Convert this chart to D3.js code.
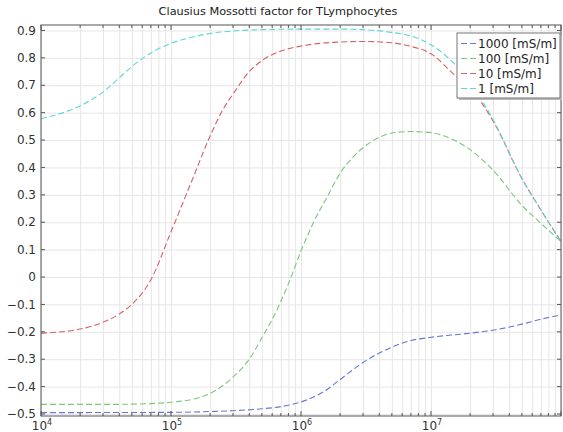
<!DOCTYPE html>
<html>
<head>
<meta charset="utf-8">
<script src="https://cdn.jsdelivr.net/npm/d3@7"></script>
<style>
  body { margin: 0; background: #fff; }
  svg { font-family: "DejaVu Sans", sans-serif; }
  .grid line { stroke: #e6e6e6; stroke-width: 1; }
  .grid path { display: none; }
</style>
</head>
<body>
<svg id="chart" width="563" height="432"></svg>
<script>
// ************************************
// Data
// ************************************
const title = "Clausius Mossotti factor for TLymphocytes";

const seriesNames = ["1000 [mS/m]", "100 [mS/m]", "10 [mS/m]", "1 [mS/m]"];
const seriesColors = ["#6676d4", "#7cc67c", "#d46262", "#5ed6d6"];

const freqBlue = [1e4, 1e5, 2e5, 3e5, 5e5, 7e5, 1e6, 1.5e6, 2e6, 3e6, 5e6, 7e6, 1e7, 2e7, 3e7, 5e7, 7e7, 1e8];
const cmBlue   = [-0.495, -0.494, -0.491, -0.488, -0.481, -0.473, -0.456, -0.418, -0.374, -0.312, -0.256, -0.232, -0.22, -0.205, -0.194, -0.172, -0.154, -0.138];

const freqGreen = [1e4, 3e4, 5e4, 7e4, 1e5, 1.5e5, 2e5, 3e5, 4e5, 5e5, 6e5, 8e5, 1e6, 1.25e6, 1.6e6, 2e6, 2.5e6, 3e6, 4e6, 5e6, 7e6, 1e7, 1.5e7, 2e7, 3e7, 5e7, 7e7, 1e8];
const cmGreen   = [-0.465, -0.465, -0.464, -0.462, -0.457, -0.445, -0.425, -0.365, -0.3, -0.222, -0.155, -0.025, 0.095, 0.2, 0.295, 0.379, 0.437, 0.472, 0.51, 0.526, 0.531, 0.527, 0.5, 0.465, 0.39, 0.262, 0.196, 0.13];

const freqRed = [1e4, 2e4, 3e4, 4e4, 5e4, 7e4, 1e5, 1.5e5, 2e5, 2.5e5, 3e5, 4e5, 5e5, 7e5, 1e6, 2e6, 3e6, 5e6, 7e6, 1e7, 1.5e7, 2e7, 3e7, 5e7, 7e7, 1e8];
const cmRed   = [-0.205, -0.19, -0.165, -0.135, -0.1, -0.01, 0.165, 0.37, 0.515, 0.61, 0.668, 0.75, 0.79, 0.825, 0.843, 0.858, 0.86, 0.855, 0.842, 0.815, 0.74, 0.69, 0.57, 0.36, 0.245, 0.13];

const freqCyan = [1e4, 2e4, 3e4, 4e4, 5e4, 7e4, 1e5, 1.5e5, 2e5, 3e5, 5e5, 1e6, 2e6, 3e6, 5e6, 7e6, 1e7, 1.5e7, 2e7, 3e7, 5e7, 7e7, 1e8];
const cmCyan   = [0.578, 0.625, 0.675, 0.727, 0.768, 0.818, 0.853, 0.877, 0.889, 0.898, 0.903, 0.905, 0.905, 0.903, 0.893, 0.88, 0.848, 0.78, 0.71, 0.575, 0.36, 0.245, 0.128];

const yTicks = [-0.5, -0.4, -0.3, -0.2, -0.1, 0, 0.1, 0.2, 0.3, 0.4, 0.5, 0.6, 0.7, 0.8, 0.9];
const xDecades = [4, 5, 6, 7];

const series = [
  { name: seriesNames[0], color: seriesColors[0], f: freqBlue, v: cmBlue },
  { name: seriesNames[1], color: seriesColors[1], f: freqGreen, v: cmGreen },
  { name: seriesNames[2], color: seriesColors[2], f: freqRed, v: cmRed },
  { name: seriesNames[3], color: seriesColors[3], f: freqCyan, v: cmCyan }
];

// ************************************
// Layout
// ************************************
const svg = d3.select("#chart");
const margin = { top: 25, right: 2, bottom: 16, left: 41 };
const width = 563 - margin.left - margin.right;
const height = 432 - margin.top - margin.bottom;

const x = d3.scaleLog().domain([1e4, 1e8]).range([0, width]);
const y = d3.scaleLinear().domain([-0.5073, 0.92]).range([height, 0]);

const g = svg.append("g").attr("transform", `translate(${margin.left},${margin.top})`);

// minor + major log ticks
const minorTicks = [];
for (let d = 4; d < 8; d++) {
  for (let m = 1; m < 10; m++) minorTicks.push(m * Math.pow(10, d));
}
minorTicks.push(1e8);

// Gridlines
g.append("g")
  .attr("class", "grid")
  .attr("transform", `translate(0,${height})`)
  .call(d3.axisBottom(x).tickValues(minorTicks).tickSize(-height).tickFormat(""));

g.append("g")
  .attr("class", "grid")
  .call(d3.axisLeft(y).tickValues(yTicks).tickSize(-width).tickFormat(""));

// Curves
const line = d3.line()
  .x(d => x(d[0]))
  .y(d => y(d[1]))
  .curve(d3.curveMonotoneX);

series.forEach(s => {
  g.append("path")
    .datum(s.f.map((f, i) => [f, s.v[i]]))
    .attr("d", line)
    .attr("fill", "none")
    .attr("stroke", s.color)
    .attr("stroke-width", 1.1)
    .attr("stroke-dasharray", "6,3");
});

// Frame
g.append("rect")
  .attr("width", width)
  .attr("height", height)
  .attr("fill", "none")
  .attr("stroke", "#555")
  .attr("stroke-width", 1);

// Inward ticks on all sides
const isMajor = v => Math.abs(Math.log10(v) - Math.round(Math.log10(v))) < 1e-9;
g.append("g").selectAll("line")
  .data(minorTicks).enter().append("line")
  .attr("x1", d => x(d)).attr("x2", d => x(d))
  .attr("y1", height).attr("y2", d => height - (isMajor(d) ? 5 : 3))
  .attr("stroke", "#555");
g.append("g").selectAll("line")
  .data(minorTicks).enter().append("line")
  .attr("x1", d => x(d)).attr("x2", d => x(d))
  .attr("y1", 0).attr("y2", d => isMajor(d) ? 5 : 3)
  .attr("stroke", "#555");
g.append("g").selectAll("line")
  .data(yTicks).enter().append("line")
  .attr("x1", 0).attr("x2", 4)
  .attr("y1", d => y(d)).attr("y2", d => y(d))
  .attr("stroke", "#555");
g.append("g").selectAll("line")
  .data(yTicks).enter().append("line")
  .attr("x1", width).attr("x2", width - 4)
  .attr("y1", d => y(d)).attr("y2", d => y(d))
  .attr("stroke", "#555");

// Y tick labels
g.append("g").selectAll("text")
  .data(yTicks).enter().append("text")
  .attr("x", -5)
  .attr("y", d => y(d))
  .attr("dy", "0.35em")
  .attr("text-anchor", "end")
  .attr("font-size", 12)
  .attr("fill", "#333")
  .text(d => d === 0 ? "0" : d3.format(".1f")(d));

// X tick labels (10^n)
const xl = g.append("g").selectAll("text")
  .data(xDecades).enter().append("text")
  .attr("x", d => x(Math.pow(10, d)) + 1)
  .attr("y", height + 14)
  .attr("text-anchor", "middle")
  .attr("font-size", 12)
  .attr("fill", "#333");
xl.append("tspan").text("10");
xl.append("tspan").attr("dy", -5).attr("font-size", 8).text(d => d);

// Title
svg.append("text")
  .attr("x", 278)
  .attr("y", 15)
  .attr("text-anchor", "middle")
  .attr("font-size", 11.3)
  .attr("fill", "#222")
  .text(title);

// Legend
const lx = 457, ly = 33, lw = 103, lh = 65;
svg.append("rect")
  .attr("x", lx + 2).attr("y", ly + 2)
  .attr("width", lw).attr("height", lh)
  .attr("fill", "#bbb");
svg.append("rect")
  .attr("x", lx).attr("y", ly)
  .attr("width", lw).attr("height", lh)
  .attr("fill", "#fff")
  .attr("stroke", "#777");

series.forEach((s, i) => {
  const ry = ly + 10.5 + i * 15;
  svg.append("line")
    .attr("x1", lx + 4).attr("x2", lx + 20)
    .attr("y1", ry).attr("y2", ry)
    .attr("stroke", s.color)
    .attr("stroke-width", 1.1)
    .attr("stroke-dasharray", "6,3");
  svg.append("text")
    .attr("x", lx + 21)
    .attr("y", ry)
    .attr("dy", "0.35em")
    .attr("font-size", 12)
    .attr("fill", "#222")
    .text(s.name);
});
</script>
</body>
</html>
